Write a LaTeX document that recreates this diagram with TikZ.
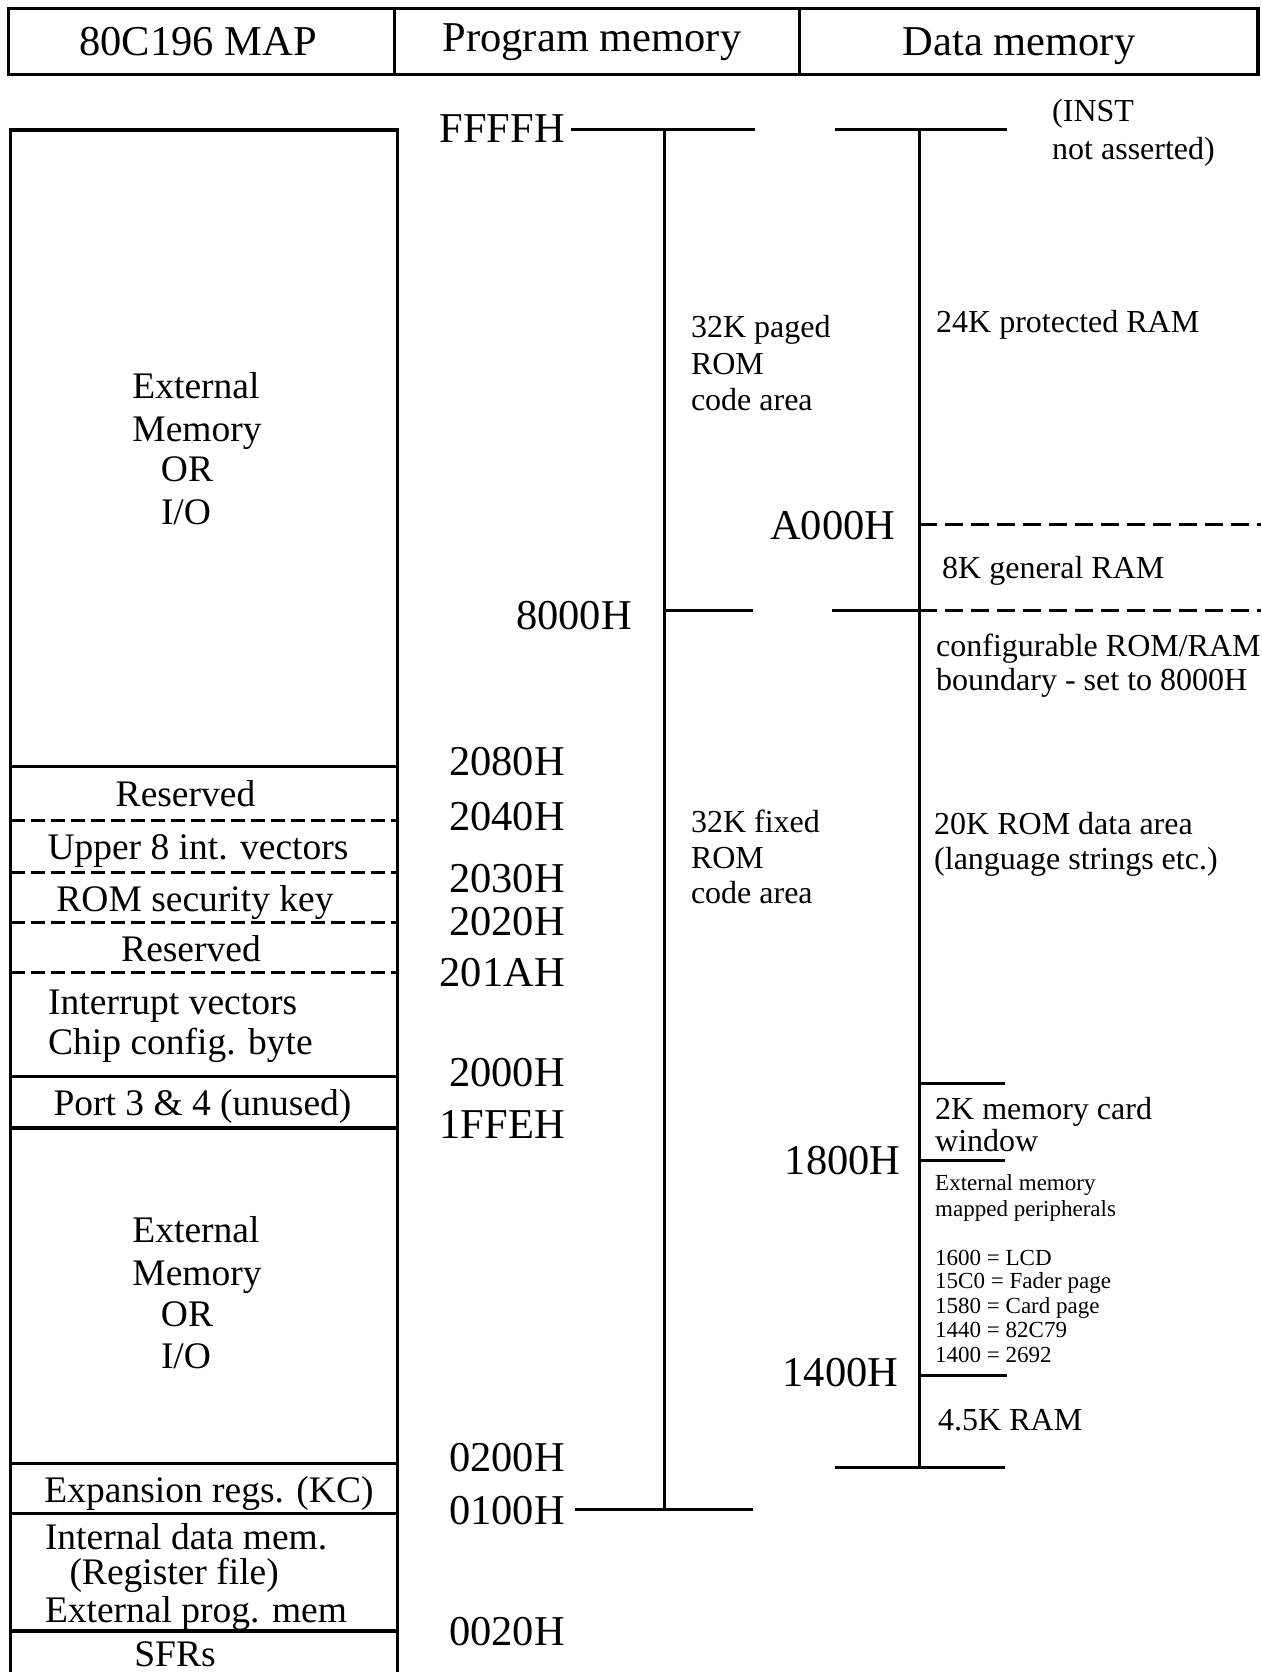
\documentclass[tikz,border=0pt]{standalone}
\usepackage{fontspec}
\setmainfont{Liberation Serif}
\tikzset{
  hbox/.style={line width=3.8pt},
  mbox/.style={line width=3.4pt},
  tick/.style={line width=3pt},
  celldash/.style={line width=3pt, dash pattern=on 14pt off 6pt},
  datadash/.style={line width=3pt, dash pattern=on 18pt off 8pt},
  hdr/.style={inner sep=0pt, text height=29pt, text depth=0pt, font=\fontsize{42.5}{48}\selectfont},
  addr/.style={inner sep=0pt, text height=29pt, text depth=0pt, anchor=east, font=\fontsize{42.5}{48}\selectfont},
  cell/.style={inner sep=0pt, text height=25.5pt, text depth=0pt, font=\fontsize{37.5}{42}\selectfont},
  lbl/.style={inner sep=0pt, text height=21.8pt, text depth=0pt, anchor=west, font=\fontsize{32}{36}\selectfont},
  small/.style={inner sep=0pt, text height=15.6pt, text depth=0pt, anchor=west, font=\fontsize{23}{26}\selectfont},
}
\begin{document}
\begin{tikzpicture}[x=1pt,y=-1pt]
\useasboundingbox (0,0) rectangle (1261,1672);
\fill[white] (0,0) rectangle (1261,1672);

% ---------- header ----------
\draw[hbox] (8.5,8.5) rectangle (1258,74.6);
\draw[hbox] (394.4,8.5) -- (394.4,74.6);
\draw[hbox] (799.5,8.5) -- (799.5,74.6);
\node[hdr] (hmap) at (198,41) {80C196 MAP};
\node[hdr] (hprog) at (592,37) {Program memory};
\node[hdr] (hdata) at (1019,41) {Data memory};

% ---------- left map column ----------
\draw[mbox] (10.7,1700) -- (10.7,130) -- (397.6,130) -- (397.6,1700);
\foreach \yy in {766.5,1076.7,1127.8,1463.6,1513.7,1631}
  \draw[mbox] (10.7,\yy) -- (397.6,\yy);
\foreach \yy in {820.8,872,922,972}
  \draw[celldash] (10.7,\yy) -- (397.6,\yy);

\node[cell] (ext1a) at (196,386) {External};
\node[cell] (ext1b) at (197,428.5) {Memory};
\node[cell] (ext1c) at (187,469) {OR};
\node[cell] (ext1d) at (186,511.7) {I/O};

\node[cell] (res1) at (185.5,794) {Reserved};
\node[cell] (upper) at (198,846.4) {Upper 8 int. vectors};
\node[cell] (seckey) at (195,898.6) {ROM security key};
\node[cell] (res2) at (191,948.7) {Reserved};
\node[cell,anchor=west] (intvec) at (48,1002) {Interrupt vectors};
\node[cell,anchor=west] (chipcfg) at (48,1041.5) {Chip config. byte};
\node[cell] (port34) at (202.5,1103) {Port 3 \& 4 (unused)};

\node[cell] (ext2a) at (196,1230) {External};
\node[cell] (ext2b) at (197,1273) {Memory};
\node[cell] (ext2c) at (187,1314) {OR};
\node[cell] (ext2d) at (186,1356) {I/O};

\node[cell] (expreg) at (209,1490) {Expansion regs. (KC)};
\node[cell,anchor=west] (intdata) at (44.8,1537) {Internal data mem.};
\node[cell,anchor=west] (regfile) at (69.3,1572) {(Register file)};
\node[cell,anchor=west] (extprog) at (44.8,1609.7) {External prog. mem};
\node[cell] (sfrs) at (175,1654) {SFRs};

% ---------- addresses ----------
\node[addr] (aFFFF) at (565,128) {FFFFH};
\node[addr] (a8000) at (632,615) {8000H};
\node[addr] (a2080) at (565,761) {2080H};
\node[addr] (a2040) at (565,815.5) {2040H};
\node[addr] (a2030) at (565,878.4) {2030H};
\node[addr] (a2020) at (565,921) {2020H};
\node[addr] (a201A) at (565,972) {201AH};
\node[addr] (a2000) at (565,1072.4) {2000H};
\node[addr] (a1FFE) at (565,1123.6) {1FFEH};
\node[addr] (a0200) at (565,1457.2) {0200H};
\node[addr] (a0100) at (565,1509.5) {0100H};
\node[addr] (a0020) at (565,1631) {0020H};
\node[addr] (aA000) at (895.4,524.5) {A000H};
\node[addr] (a1800) at (900.8,1160) {1800H};
\node[addr] (a1400) at (898.6,1372) {1400H};

% ---------- program memory scale ----------
\coordinate (ptop) at (664,130);
\coordinate (pbot) at (664,1509.5);
\draw[tick] (ptop) -- (pbot);
\draw[tick] (571,130) coordinate (pf1) -- (755,130) coordinate (pf2);
\draw[tick] (664,610.8) -- (752.6,610.8) coordinate (p8r);
\draw[tick] (575,1509.5) -- (752.6,1509.5) coordinate (p01r);

\node[lbl] (pag1) at (690.8,327) {32K paged};
\node[lbl] (pag2) at (690.8,363.5) {ROM};
\node[lbl] (pag3) at (690.8,400) {code area};
\node[lbl] (fix1) at (690.8,822) {32K fixed};
\node[lbl] (fix2) at (690.8,858) {ROM};
\node[lbl] (fix3) at (690.8,893) {code area};

% ---------- data memory scale ----------
\coordinate (dtop) at (919,130);
\coordinate (dbot) at (919,1467);
\draw[tick] (dtop) -- (dbot);
\draw[tick] (834.7,130) -- (1007.4,130);
\draw[datadash] (919,524.5) -- (1261,524.5);
\draw[tick] (831.5,610.8) -- (919,610.8);
\draw[datadash] (919,610.8) -- (1261,610.8);
\draw[tick] (919,1083) -- (1005,1083);
\draw[tick] (919,1160) -- (1005,1160);
\draw[tick] (919,1375) -- (1007,1375);
\draw[tick] (834.7,1467) -- (1005,1467);

\node[lbl] (inst1) at (1052,111) {(INST};
\node[lbl] (inst2) at (1052,149) {not asserted)};
\node[lbl] (prot) at (936,322) {24K protected RAM};
\node[lbl] (gen) at (942,568) {8K general RAM};
\node[lbl] (conf1) at (936,646) {configurable ROM/RAM};
\node[lbl] (conf2) at (936,680) {boundary - set to 8000H};
\node[lbl] (romd1) at (934,824) {20K ROM data area};
\node[lbl] (romd2) at (934,859) {(language strings etc.)};
\node[lbl] (card1) at (935,1108.6) {2K memory card};
\node[lbl] (card2) at (935,1140.6) {window};
\node[small] (per1) at (935,1183) {External memory};
\node[small] (per2) at (935,1209) {mapped peripherals};
\node[small] (per3) at (935,1258) {1600 = LCD};
\node[small] (per4) at (935,1281) {15C0 = Fader page};
\node[small] (per5) at (935,1306) {1580 = Card page};
\node[small] (per6) at (935,1330) {1440 = 82C79};
\node[small] (per7) at (935,1355) {1400 = 2692};
\node[lbl] (ram45) at (938,1420) {4.5K RAM};
\end{tikzpicture}
\end{document}
